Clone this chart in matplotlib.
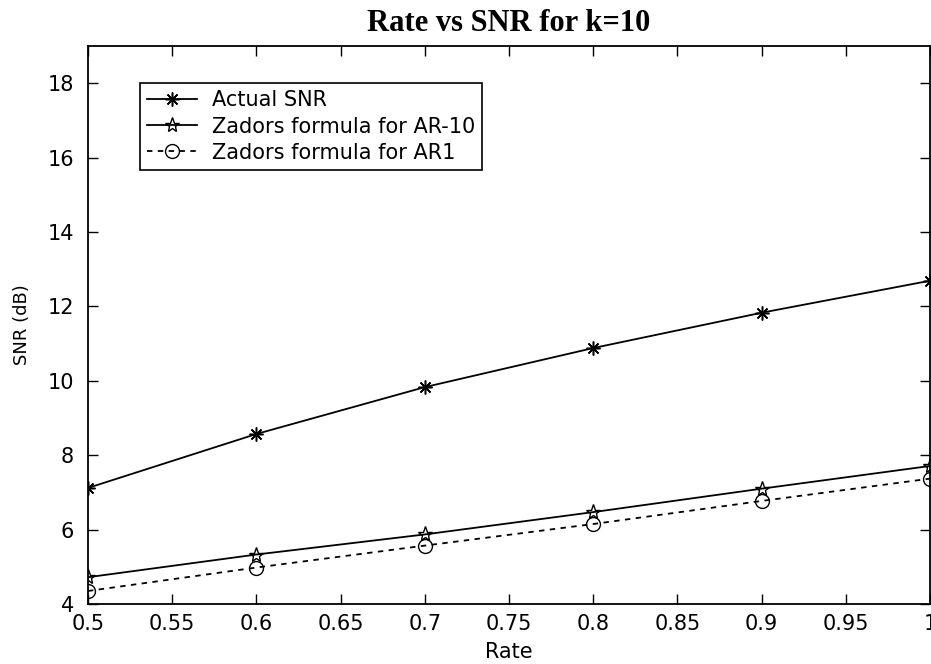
import matplotlib
matplotlib.use("Agg")
import matplotlib.pyplot as plt

rate = [0.5, 0.6, 0.7, 0.8, 0.9, 1.0]
actual_snr = [7.12, 8.57, 9.83, 10.88, 11.83, 12.69]
zador_ar10 = [4.72, 5.33, 5.87, 6.47, 7.10, 7.71]
zador_ar1 = [4.35, 4.98, 5.57, 6.15, 6.77, 7.37]

xticks = [0.5, 0.55, 0.6, 0.65, 0.7, 0.75, 0.8, 0.85, 0.9, 0.95, 1.0]
xticklabels = ["0.5", "0.55", "0.6", "0.65", "0.7", "0.75", "0.8", "0.85", "0.9", "0.95", "1"]
yticks = [4, 6, 8, 10, 12, 14, 16, 18]

plt.rcParams['font.family'] = ['DejaVu Sans']

W, H = 931, 664
fig = plt.figure(figsize=(W / 100, H / 100), dpi=100)
L, R, T, B = 88, 930, 46, 604
ax = fig.add_axes([L / W, (H - B) / H, (R - L) / W, (B - T) / H])

ax.plot(rate, actual_snr, color='black', linewidth=1.3, linestyle='-',
        marker=(8, 2, 0), markersize=10, markeredgewidth=1.1, label='Actual SNR')
ax.plot(rate, zador_ar10, color='black', linewidth=1.3, linestyle='-',
        marker='*', markersize=11, markerfacecolor='none', markeredgewidth=1.0,
        label='Zadors formula for AR-10')
ax.plot(rate, zador_ar1, color='black', linewidth=1.3, linestyle=(0, (3, 3)),
        marker='o', markersize=10, markerfacecolor='none', markeredgewidth=1.0,
        label='Zadors formula for AR1')

ax.set_xlim(0.5, 1.0)
ax.set_ylim(4, 19)
ax.set_xticks(xticks)
ax.set_xticklabels(xticklabels)
ax.set_yticks(yticks)
ax.tick_params(direction='in', length=7, width=1, labelsize=15, top=True, right=True)
ax.tick_params(axis='x', pad=7)
ax.tick_params(axis='y', pad=10)
for s in ax.spines.values():
    s.set_linewidth(1.3)

ax.set_xlabel('Rate', fontsize=15, labelpad=6)
ax.set_ylabel('SNR (dB)', fontsize=13, labelpad=12)
ax.set_title('Rate vs SNR for k=10', fontsize=22, fontweight='bold',
             family=['Liberation Serif', 'DejaVu Serif'], pad=11)

leg = ax.legend(loc='upper left', bbox_to_anchor=((140 - L) / (R - L), (B - 83) / (B - T)),
                fontsize=15, frameon=True, fancybox=False, edgecolor='black', framealpha=1,
                handlelength=2.4, handletextpad=0.7, borderpad=0.35, labelspacing=0.3,
                borderaxespad=0)
leg.get_frame().set_linewidth(1.2)

fig.savefig('out.png', dpi=100)
